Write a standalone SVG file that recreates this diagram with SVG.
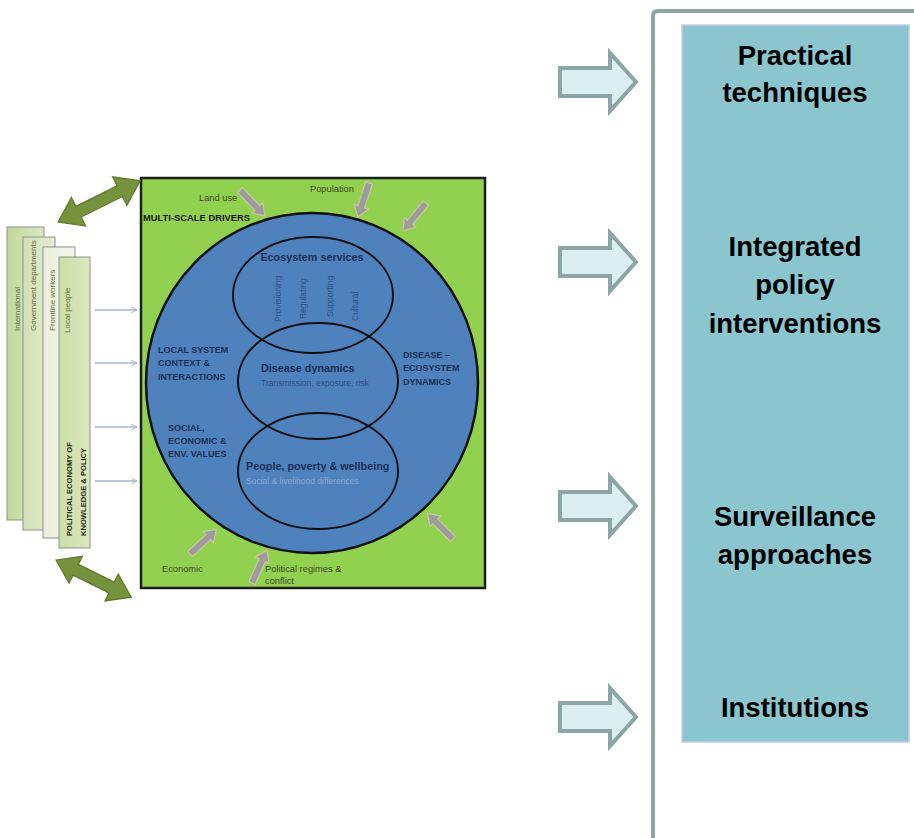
<svg xmlns="http://www.w3.org/2000/svg" width="914" height="838" viewBox="0 0 914 838">
<defs>
<style>
.panel{stroke:#8f8f8f;stroke-width:1}
.ptxt{font-family:"Liberation Sans",Arial,sans-serif;font-size:8px;fill:#5f6d45}
.pbold{font-family:"Liberation Sans",Arial,sans-serif;font-size:7.6px;font-weight:bold;fill:#1e1e1e}
.drv{fill:#9c9c9c;stroke:#cdc69c;stroke-width:1.2}
.dbl{fill:#76923c;stroke:#5f7a30;stroke-width:1.2}
.lbl{font-family:"Liberation Sans",Arial,sans-serif;font-size:9px;font-weight:bold;fill:#1c3055}
.sm{font-family:"Liberation Sans",Arial,sans-serif;font-size:9.3px;fill:#3b4a2a}
.head{font-family:"Liberation Sans",Arial,sans-serif;font-size:10.8px;font-weight:bold;fill:#1c3055}
.sub{font-family:"Liberation Sans",Arial,sans-serif;font-size:8.5px;fill:#2f5185}
.ring{fill:none;stroke:#111;stroke-width:2}
.hollow{fill:#dbeef1;stroke:#8ca5a5;stroke-width:4;stroke-linejoin:miter}
.big{font-family:"Liberation Sans",Arial,sans-serif;font-size:27.5px;font-weight:bold;fill:#000;text-anchor:middle}
.thin{stroke:#a3b5cc;stroke-width:1.3;fill:none}
</style>
<linearGradient id="g1" x1="0" y1="0" x2="1" y2="0"><stop offset="0" stop-color="#c3d79c"/><stop offset="1" stop-color="#dde8c3"/></linearGradient>
<linearGradient id="g2" x1="0" y1="0" x2="1" y2="0"><stop offset="0" stop-color="#d3e1b5"/><stop offset="1" stop-color="#e3ecd0"/></linearGradient>
<linearGradient id="g3" x1="0" y1="0" x2="1" y2="0"><stop offset="0" stop-color="#eaf0dc"/><stop offset="1" stop-color="#f3f7ea"/></linearGradient>
<linearGradient id="g4" x1="0" y1="0" x2="1" y2="0"><stop offset="0" stop-color="#cddea6"/><stop offset="1" stop-color="#dbe7bd"/></linearGradient>
<polygon id="drvArrow" points="0,-3.5 25,-3.5 25,-7.5 36,0 25,7.5 25,3.5 0,3.5"/>
<path id="hol" d="M560,-14 H610 V-29 L636,0 L610,29 V14 H560 Z"/>
<marker id="ah" viewBox="0 0 10 10" refX="9" refY="5" markerWidth="7" markerHeight="7" orient="auto" markerUnits="userSpaceOnUse"><path d="M1,1 L9,5 L1,9" fill="none" stroke="#a3b5cc" stroke-width="1.3"/></marker>
</defs>

<g id="panels">
<g id="panel-international"><rect class="panel" x="7" y="227" width="37" height="293" fill="url(#g1)"/><text class="ptxt" transform="translate(20,331) rotate(-90)">International</text></g>
<g id="panel-government"><rect class="panel" x="23" y="237" width="32" height="293" fill="url(#g2)"/><text class="ptxt" transform="translate(36,331) rotate(-90)">Government departments</text></g>
<g id="panel-frontline"><rect class="panel" x="43" y="247" width="32" height="291" fill="url(#g3)"/><text class="ptxt" transform="translate(55,331) rotate(-90)">Frontline workers</text></g>
<g id="panel-local"><rect class="panel" x="59" y="257" width="31" height="291" fill="url(#g4)"/><text class="ptxt" transform="translate(70,333) rotate(-90)">Local people</text>
<text class="pbold" transform="translate(72,536) rotate(-90)">POLITICAL ECONOMY OF</text>
<text class="pbold" transform="translate(86,536) rotate(-90)">KNOWLEDGE &amp; POLICY</text></g>
</g>

<g id="drivers-box">
<rect x="141" y="178" width="344" height="410" fill="#92d050" stroke="#1e1e1e" stroke-width="2.5"/>
<ellipse cx="312" cy="383" rx="166" ry="170" fill="#4f81bd" stroke="#111" stroke-width="2.5"/>
<text class="lbl" x="143" y="221" style="fill:#1a1a1a;font-size:9.4px">MULTI-SCALE DRIVERS</text>
<text class="sm" x="199" y="201">Land use</text>
<text class="sm" x="310" y="192">Population</text>
<text class="sm" x="162" y="572">Economic</text>
<text class="sm" x="265" y="572">Political regimes &amp;</text>
<text class="sm" x="265" y="584">conflict</text>
<text class="lbl" x="158" y="353">LOCAL SYSTEM</text>
<text class="lbl" x="158" y="366">CONTEXT &amp;</text>
<text class="lbl" x="158" y="380">INTERACTIONS</text>
<text class="lbl" x="168" y="431">SOCIAL,</text>
<text class="lbl" x="168" y="444">ECONOMIC &amp;</text>
<text class="lbl" x="168" y="457">ENV. VALUES</text>
<text class="lbl" x="403" y="358">DISEASE –</text>
<text class="lbl" x="403" y="371">ECOSYSTEM</text>
<text class="lbl" x="403" y="385">DYNAMICS</text>
</g>

<g id="ecosystem-services">
<ellipse class="ring" cx="313" cy="295" rx="80" ry="58"/>
<text class="head" x="312" y="261" text-anchor="middle">Ecosystem services</text>
<text class="sub" transform="translate(281,322) rotate(-90)">Provisioning</text>
<text class="sub" transform="translate(306,319) rotate(-90)">Regulating</text>
<text class="sub" transform="translate(333,317) rotate(-90)">Supporting</text>
<text class="sub" transform="translate(358,321) rotate(-90)">Cultural</text>
</g>

<g id="disease-dynamics">
<ellipse class="ring" cx="318" cy="381" rx="80" ry="58"/>
<text class="head" x="261" y="372">Disease dynamics</text>
<text class="sub" x="261" y="386">Transmission, exposure, risk</text>
</g>

<g id="people-poverty">
<ellipse class="ring" cx="318" cy="471" rx="80" ry="58"/>
<text class="head" x="246" y="470">People, poverty &amp; wellbeing</text>
<text class="sub" x="246" y="484" style="fill:#8aa6d2">Social &amp; livelihood differences</text>
</g>

<g id="outcomes">
<path d="M653,838 V16 Q653,11 658,11 H914" fill="none" stroke="#8ca5a5" stroke-width="4"/>
<rect x="682" y="25" width="227" height="717" fill="#8bc6cf" stroke="#c9c9e6" stroke-width="1.5"/>
<g id="practical"><text class="big" x="795" y="65">Practical</text><text class="big" x="795" y="102">techniques</text></g>
<g id="integrated"><text class="big" x="795" y="256">Integrated</text><text class="big" x="795" y="294">policy</text><text class="big" x="795" y="333">interventions</text></g>
<g id="surveillance"><text class="big" x="795" y="526">Surveillance</text><text class="big" x="795" y="564">approaches</text></g>
<g id="institutions"><text class="big" x="795" y="717">Institutions</text></g>
</g>

<g id="connectors">
<polygon class="dbl" transform="translate(58,222) rotate(-26.6)" points="0,0 23,-16 23,-6 69,-6 69,-16 92,0 69,16 69,6 23,6 23,16"/>
<polygon class="dbl" transform="translate(56,560) rotate(26.3)" points="0,0 22,-15 22,-6 62,-6 62,-15 84,0 62,15 62,6 22,6 22,15"/>
<line class="thin" x1="95" y1="310" x2="137" y2="310" marker-end="url(#ah)"/>
<line class="thin" x1="95" y1="363" x2="137" y2="363" marker-end="url(#ah)"/>
<line class="thin" x1="95" y1="427" x2="137" y2="427" marker-end="url(#ah)"/>
<line class="thin" x1="95" y1="481" x2="137" y2="481" marker-end="url(#ah)"/>
<use href="#drvArrow" class="drv" transform="translate(240,190) rotate(46)"/>
<use href="#drvArrow" class="drv" transform="translate(369,183) rotate(108)"/>
<use href="#drvArrow" class="drv" transform="translate(426,203) rotate(129.6)"/>
<use href="#drvArrow" class="drv" transform="translate(190,554) rotate(-42.8)"/>
<use href="#drvArrow" class="drv" transform="translate(252,583) rotate(-65.7)"/>
<use href="#drvArrow" class="drv" transform="translate(453,539) rotate(-135)"/>
<use href="#hol" class="hollow" transform="translate(0,82)"/>
<use href="#hol" class="hollow" transform="translate(0,262)"/>
<use href="#hol" class="hollow" transform="translate(0,506)"/>
<use href="#hol" class="hollow" transform="translate(0,717)"/>
</g>
</svg>
